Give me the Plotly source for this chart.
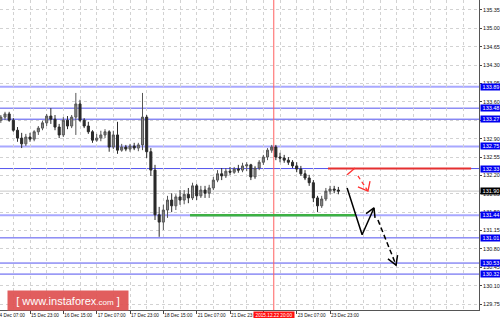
import plotly.graph_objects as go

# ---- data (hours counted from 15 Dec 23:00, 2-hour candles) ----
hours = list(range(-14, 150, 2))
opens = [133.25,133.31,133.37,133.25,133.06,132.91,132.80,132.93,132.89,133.03,
         133.10,133.20,133.33,133.27,133.12,132.97,133.25,133.14,133.31,133.56,
         133.25,133.14,133.03,132.87,132.91,132.97,133.03,132.74,132.97,132.68,
         132.74,132.70,132.76,132.72,132.78,133.31,132.65,132.30,131.45,131.31,
         131.54,131.73,131.62,131.79,131.73,131.84,131.77,132.00,131.81,131.92,
         131.86,131.96,132.11,132.23,132.19,132.28,132.26,132.32,132.30,132.38,
         132.40,132.17,132.34,132.45,132.55,132.68,132.74,132.55,132.53,132.49,
         132.45,132.38,132.32,132.23,132.15,132.06,131.77,131.62,131.75,131.90,
         131.94,131.92]
highs = [133.35,133.41,133.41,133.29,133.12,133.01,132.99,133.01,133.06,133.14,
         133.24,133.37,133.48,133.35,133.18,133.31,133.33,133.35,133.77,133.64,
         133.29,133.22,133.06,132.99,133.05,133.08,133.06,133.05,133.22,132.80,
         132.78,132.80,132.82,132.82,133.77,133.35,132.72,132.40,131.60,131.64,
         131.81,131.86,131.84,131.92,131.92,131.96,132.06,132.04,132.00,132.00,
         132.02,132.17,132.30,132.34,132.34,132.36,132.36,132.40,132.44,132.45,
         132.42,132.38,132.49,132.59,132.72,132.78,132.78,132.63,132.59,132.55,
         132.49,132.45,132.38,132.30,132.21,132.11,131.81,131.81,131.96,132.00,
         132.00,131.98]
lows = [133.20,133.25,133.22,133.03,132.84,132.72,132.76,132.84,132.85,132.97,
        133.06,133.14,133.18,133.06,132.91,132.93,133.08,133.10,132.97,133.22,
        133.10,132.99,132.82,132.84,132.85,132.91,132.65,132.70,132.61,132.65,
        132.66,132.65,132.68,132.66,132.68,132.53,132.19,131.35,131.03,131.16,
        131.39,131.50,131.54,131.64,131.65,131.67,131.73,131.73,131.77,131.77,
        131.77,131.92,132.07,132.11,132.15,132.21,132.23,132.25,132.26,132.28,
        132.11,132.13,132.30,132.40,132.49,132.63,132.49,132.45,132.44,132.40,
        132.34,132.26,132.19,132.11,132.00,131.69,131.50,131.58,131.71,131.84,
        131.86,131.84]
closes = [133.31,133.37,133.25,133.06,132.91,132.80,132.93,132.89,133.03,133.10,
          133.20,133.33,133.27,133.12,132.97,133.25,133.14,133.31,133.56,133.25,
          133.14,133.03,132.87,132.91,132.97,133.03,132.74,132.97,132.68,132.74,
          132.70,132.76,132.72,132.78,133.31,132.65,132.30,131.45,131.31,131.54,
          131.73,131.62,131.79,131.73,131.84,131.77,132.00,131.81,131.92,131.86,
          131.96,132.11,132.23,132.19,132.28,132.26,132.32,132.30,132.38,132.40,
          132.17,132.34,132.45,132.55,132.68,132.74,132.55,132.53,132.49,132.45,
          132.38,132.32,132.23,132.15,132.06,131.77,131.62,131.75,131.90,131.94,
          131.92,131.90]

tick_hours = [0, 16, 32, 48, 64, 80, 96, 112, 128, 144]
tick_labels = ["15 Dec 23:00", "16 Dec 15:00", "17 Dec 07:00", "17 Dec 23:00",
               "18 Dec 15:00", "21 Dec 07:00", "21 Dec 23:00", "",
               "23 Dec 07:00", "23 Dec 23:00"]
first_label = "14 Dec 07:00"

level_dark = [133.48, 133.27, 132.33, 131.01, 130.53, 130.32]
level_light = [133.89, 132.75, 131.44]
current_price = 131.90

marker_hour = 117
marker_label = "2015.12.22 20:00"

resistance_hours = [143.0, 211.7]
resistance_price = 132.33
support_hours = [76.8, 156.0]
support_price = 131.44

black_solid_x = [152.2, 159.4, 165.1]
black_solid_y = [131.96, 131.07, 131.58]
black_head1_x = [161.3, 165.1, 165.6]
black_head1_y = [131.47, 131.58, 131.39]
black_dash_x = [167.0, 175.7]
black_dash_y = [131.35, 130.49]
black_head2_x = [171.8, 175.7, 176.4]
black_head2_y = [130.61, 130.49, 130.68]
red_solid_x = [152.2, 156.0]
red_solid_y = [132.21, 132.34]
red_dash_x = [157.4, 162.2]
red_dash_y = [132.19, 131.90]
red_head_x = [157.4, 162.2, 163.2]
red_head_y = [131.98, 131.90, 132.09]

# ---- figure ----
fig = go.Figure()
fig.add_trace(go.Candlestick(
    x=hours, open=opens, high=highs, low=lows, close=closes,
    increasing=dict(line=dict(color="#555555", width=1), fillcolor="#8a8a8a"),
    decreasing=dict(line=dict(color="#2a2a2a", width=1), fillcolor="#2a2a2a"),
    whiskerwidth=0, hoverinfo="skip", showlegend=False))

def seg(x, y, color, width, dash="solid"):
    fig.add_trace(go.Scatter(x=x, y=y, mode="lines", hoverinfo="skip",
                             showlegend=False,
                             line=dict(color=color, width=width, dash=dash)))

seg(resistance_hours, [resistance_price] * 2, "#e53030", 2)
seg(support_hours, [support_price] * 2, "#3cb043", 2.5)
seg(black_solid_x, black_solid_y, "#000000", 1.5)
seg(black_head1_x, black_head1_y, "#000000", 1.5)
seg(black_dash_x, black_dash_y, "#000000", 1.5, "5px,3px")
seg(black_head2_x, black_head2_y, "#000000", 1.5)
seg(red_solid_x, red_solid_y, "#ff3030", 1.3)
seg(red_dash_x, red_dash_y, "#ff3030", 1.3, "4px,3px")
seg(red_head_x, red_head_y, "#ff3030", 1.3)

shapes = []
for lv in level_light:
    shapes.append(dict(type="line", xref="paper", x0=0, x1=1, yref="y", y0=lv, y1=lv,
                       line=dict(color="#a8a8ff", width=2), layer="below"))
for lv in level_dark:
    shapes.append(dict(type="line", xref="paper", x0=0, x1=1, yref="y", y0=lv, y1=lv,
                       line=dict(color="#5252ee", width=1), layer="below"))
shapes.append(dict(type="line", xref="paper", x0=0, x1=1, yref="y",
                   y0=current_price, y1=current_price,
                   line=dict(color="#c8c8c8", width=1), layer="below"))
shapes.append(dict(type="line", xref="x", x0=marker_hour, x1=marker_hour,
                   yref="paper", y0=0, y1=1,
                   line=dict(color="#ff6060", width=1), layer="below"))

small = dict(family="Liberation Sans", size=5.5, color="white")
annotations = []
for lv in level_light + level_dark:
    annotations.append(dict(xref="paper", x=1, xanchor="left", xshift=1,
                            yref="y", y=lv, yanchor="middle",
                            text=f"{lv:.2f}", showarrow=False, font=small,
                            bgcolor="#0000f0", borderpad=0, width=20, height=6))
annotations.append(dict(xref="paper", x=1, xanchor="left", xshift=1,
                        yref="y", y=current_price, yanchor="middle",
                        text=f"{current_price:.2f}", showarrow=False, font=small,
                        bgcolor="#000000", borderpad=0, width=20, height=6))
annotations.append(dict(xref="x", x=marker_hour, xanchor="center",
                        yref="paper", y=0, yanchor="top", yshift=-1,
                        text=marker_label, showarrow=False,
                        font=dict(family="Liberation Sans", size=4.7, color="white"),
                        bgcolor="#ff1010", borderpad=0, width=40, height=7))
annotations.append(dict(xref="paper", x=-5 / 479, xanchor="left",
                        yref="paper", y=0, yanchor="top", yshift=-1,
                        text=first_label, showarrow=False,
                        font=dict(family="Liberation Sans", size=4.7, color="#111")))
annotations.append(dict(xref="paper", x=68 / 479, xanchor="center",
                        yref="paper", y=9.5 / 310, yanchor="middle",
                        text="[ www.instaforex<span style='font-size:8px'>.com</span> ]",
                        showarrow=False,
                        font=dict(family="Liberation Sans", size=11, color="white"),
                        bgcolor="rgba(222,80,80,0.92)", borderpad=0,
                        width=120, height=19))

grid = dict(showgrid=True, gridcolor="#d2d2d2", griddash="dot", gridwidth=1)
fig.update_layout(
    width=500, height=318,
    margin=dict(l=0, r=21, t=0, b=8, autoexpand=False),
    paper_bgcolor="white", plot_bgcolor="white",
    showlegend=False, hovermode=False,
    shapes=shapes, annotations=annotations,
    xaxis=dict(range=[-14.4, 215.5], tickmode="array", tickvals=tick_hours,
               ticktext=tick_labels, tickangle=0, automargin=False,
               ticks="outside", ticklen=3,
               tickcolor="#444", ticklabelposition="outside right",
               tickfont=dict(family="Liberation Sans", size=4.7, color="#111"),
               showline=True, linecolor="#555", linewidth=1, zeroline=False,
               rangeslider=dict(visible=False),
               minor=dict(tick0=0, dtick=8, showgrid=True, gridcolor="#d2d2d2",
                          griddash="dot", ticks=""),
               **grid),
    yaxis=dict(side="right", range=[129.636, 135.54], tick0=129.75, dtick=0.35,
               tickformat=".2f", ticks="outside", ticklen=2, tickcolor="#444",
               automargin=False,
               tickfont=dict(family="Liberation Sans", size=5.5, color="#111"),
               showline=True, linecolor="#555", linewidth=1, zeroline=False,
               **grid),
)

fig.write_html("out.html")
